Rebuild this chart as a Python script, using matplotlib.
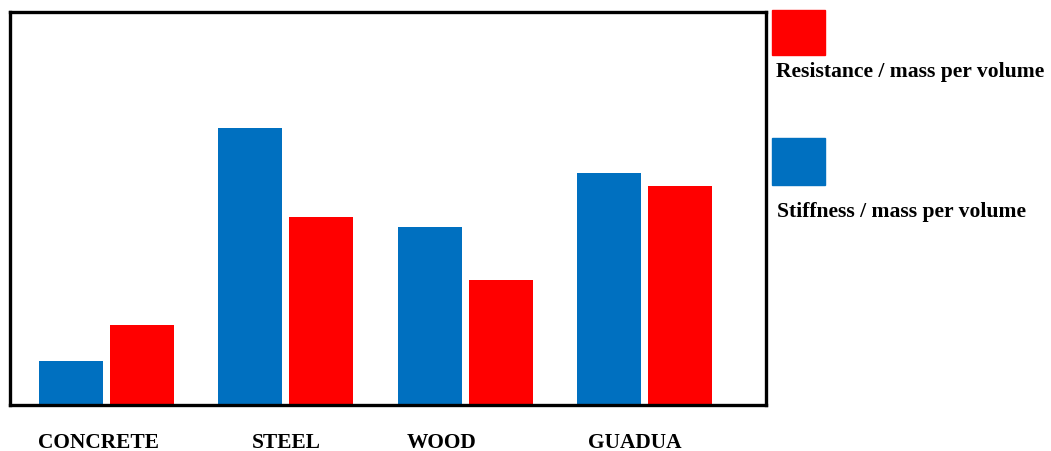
import matplotlib.pyplot as plt
import matplotlib.transforms as mtransforms
import numpy as np
from matplotlib.patches import Rectangle

materials = ["CONCRETE", "STEEL", "WOOD", "GUADUA"]
stiffness = [44, 277, 178, 232]
resistance = [80, 188, 125, 219]

BLUE = "#0070C0"
RED = "#FF0000"

plt.rcParams["font.family"] = ["Liberation Serif", "DejaVu Serif"]

W, H = 1051, 451
fig = plt.figure(figsize=(W / 100, H / 100), dpi=100)
ax = fig.add_axes([10 / W, 1 - 405 / H, 756 / W, 393 / H])

x = np.arange(len(materials))
width = 0.357
off = 0.198
ax.bar(x - off, stiffness, width, color=BLUE)
ax.bar(x + off, resistance, width, color=RED)

ax.set_xlim(-0.538, 3.678)
ax.set_ylim(0, 393)
ax.set_yticks([])
ax.set_xticks(x)
ax.set_xticklabels(materials, fontsize=15.4, fontweight="bold")
ax.tick_params(axis="x", length=0, pad=20)

# the labels in the original sit a bit left of the bar groups
shifts = [-8, 0, -24, -10]
for lab, dx in zip(ax.get_xticklabels(), shifts):
    lab.set_transform(lab.get_transform() +
                      mtransforms.ScaledTranslation(dx / 100, 0, fig.dpi_scale_trans))

for s in ax.spines.values():
    s.set_linewidth(2.4)
    s.set_color("black")

# legend drawn by hand: swatch above, label below
fig.add_artist(Rectangle((772 / W, 1 - 55 / H), 53 / W, 45 / H, color=RED,
                         transform=fig.transFigure))
fig.text(776 / W, 1 - 72 / H, "Resistance / mass per volume", fontsize=15.6,
         fontweight="bold", va="center", ha="left")
fig.add_artist(Rectangle((772 / W, 1 - 185 / H), 53 / W, 47 / H, color=BLUE,
                         transform=fig.transFigure))
fig.text(777 / W, 1 - 212 / H, "Stiffness / mass per volume", fontsize=15.6,
         fontweight="bold", va="center", ha="left")

fig.savefig("out.png", dpi=100)
